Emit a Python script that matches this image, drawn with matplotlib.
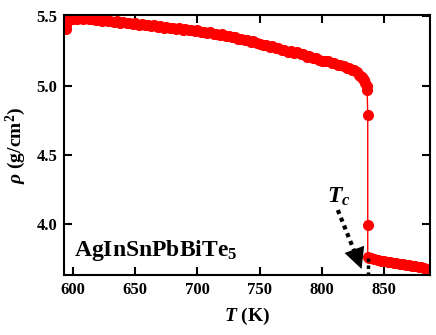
import matplotlib
matplotlib.use("Agg")
import matplotlib.pyplot as plt

# --- data (T in K, density in g/cm^2) ---
T = [594.0, 594.5, 595.0, 597, 600, 603, 605, 608, 610, 613, 615, 618, 620, 623, 625,
     628, 630, 633, 635, 638, 640, 643, 645, 648, 650, 653, 655, 658, 660, 663,
     665, 668, 670, 673, 675, 678, 680, 683, 685, 688, 690, 693, 695, 698, 700,
     703, 705, 708, 710, 713, 715, 718, 720, 723, 725, 728, 730, 733, 735, 738,
     740, 743, 745, 748, 750, 753, 755, 758, 760, 763, 765, 768, 770, 773, 775,
     778, 780, 783, 785, 788, 790, 793, 795, 798, 800, 803, 805, 808, 810, 813,
     815, 818, 820, 822, 824, 826, 828, 830, 831, 832, 833, 834, 835, 836, 836.5,
     837, 837, 837,
     838, 840, 842, 845, 848, 850, 853, 855, 858, 860, 863, 865, 868, 870, 873,
     875, 878, 880, 882, 884, 886]
rho = [5.41, 5.44, 5.47, 5.475, 5.48, 5.485, 5.49, 5.485, 5.49, 5.48, 5.485, 5.475, 5.48, 5.47, 5.475,
       5.465, 5.47, 5.46, 5.465, 5.455, 5.46, 5.45, 5.455, 5.445, 5.45, 5.44, 5.445, 5.435, 5.44, 5.43,
       5.435, 5.425, 5.43, 5.42, 5.425, 5.415, 5.42, 5.41, 5.415, 5.405, 5.41, 5.40, 5.405, 5.395, 5.40,
       5.39, 5.39, 5.38, 5.385, 5.375, 5.375, 5.365, 5.37, 5.36, 5.36, 5.35, 5.35, 5.34, 5.34, 5.33,
       5.33, 5.315, 5.32, 5.305, 5.30, 5.295, 5.295, 5.28, 5.285, 5.27, 5.27, 5.255, 5.26, 5.245, 5.25,
       5.235, 5.24, 5.225, 5.23, 5.21, 5.215, 5.20, 5.20, 5.185, 5.18, 5.175, 5.175, 5.16, 5.165, 5.15,
       5.15, 5.14, 5.13, 5.125, 5.115, 5.11, 5.10, 5.08, 5.07, 5.06, 5.05, 5.04, 5.02, 5.00, 4.97,
       4.79, 3.99, 3.76,
       3.755, 3.75, 3.745, 3.74, 3.735, 3.735, 3.725, 3.725, 3.72, 3.715, 3.71, 3.71, 3.70, 3.705, 3.695,
       3.695, 3.685, 3.685, 3.68, 3.675, 3.67]

Tc = 837
label = r"AgInSnPbBiTe$_5$"

plt.rcParams["font.family"] = ["Liberation Serif", "DejaVu Serif"]
plt.rcParams["font.weight"] = "bold"
plt.rcParams["mathtext.fontset"] = "custom"
plt.rcParams["mathtext.rm"] = "Liberation Serif:bold"
plt.rcParams["mathtext.bf"] = "Liberation Serif:bold"
plt.rcParams["mathtext.it"] = "Liberation Serif:italic:bold"

fig = plt.figure(figsize=(4.36, 3.35), dpi=100)
ax = fig.add_axes([0.147, 0.179, 0.839, 0.776])

ax.plot(T, rho, color="red", lw=1, marker="o", ms=7, mec="red", mfc="red")

# Tc arrow and marker line
ax.plot([812.9, 829.0], [4.10, 3.74], color="black", lw=3, ls=(0, (1, 1)))
ax.annotate("", xy=(832.8, 3.655), xytext=(828.5, 3.76),
            arrowprops=dict(arrowstyle="-|>,head_length=1.5,head_width=0.75",
                            color="black", lw=0))
ax.plot([Tc, Tc], [3.75, 3.63], color="black", lw=2.5, ls=(0, (1, 1)))
ax.text(814, 4.15, r"$T_c$", fontsize=17, ha="center", va="baseline")

ax.text(601, 3.77, label, fontsize=17, fontweight="bold", ha="left", va="baseline")

ax.set_xlim(592.7, 887)
ax.set_ylim(3.63, 5.51)
ax.set_xticks([600, 650, 700, 750, 800, 850])
ax.set_yticks([4.0, 4.5, 5.0, 5.5])
ax.set_yticklabels(["4.0", "4.5", "5.0", "5.5"])
ax.tick_params(direction="in", top=True, right=True, length=6, width=1.5,
               labelsize=12, pad=5)
for s in ax.spines.values():
    s.set_linewidth(1.5)

ax.set_xlabel(r"$T$ (K)", fontsize=14, fontweight="bold", labelpad=6)
ax.set_ylabel(r"$\rho$ (g/cm$^2$)", fontsize=14, fontweight="bold", labelpad=6)

fig.savefig("out.png", dpi=100)
